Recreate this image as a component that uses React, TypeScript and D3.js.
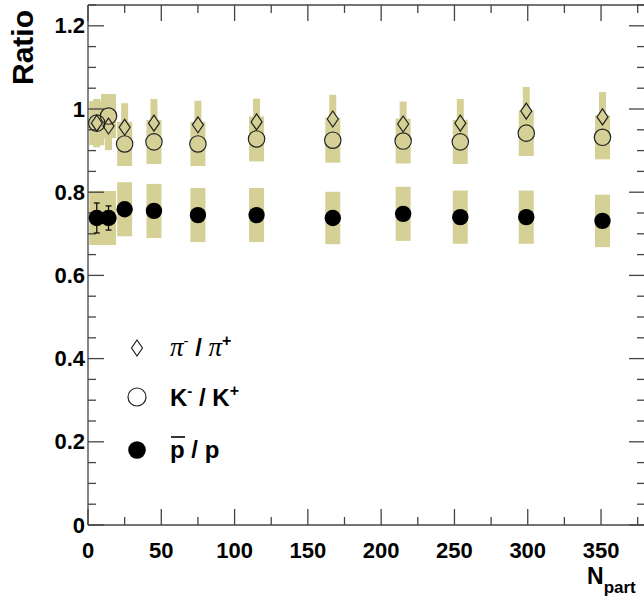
import React from 'react';
import * as d3 from 'd3';

// N_part centrality bins
const npart = [6, 14, 25, 45, 75, 115, 167, 215, 254, 299, 351];
// pi- / pi+
const piRatio = [0.966, 0.959, 0.956, 0.966, 0.962, 0.969, 0.976, 0.964, 0.966, 0.995, 0.981];
const piSys = [0.058, 0.058, 0.058, 0.058, 0.058, 0.056, 0.058, 0.054, 0.058, 0.058, 0.060];
// K- / K+
const kRatio = [0.966, 0.983, 0.916, 0.921, 0.916, 0.928, 0.925, 0.923, 0.921, 0.942, 0.932];
const kSys = [0.053, 0.053, 0.053, 0.053, 0.053, 0.054, 0.054, 0.054, 0.053, 0.055, 0.053];
// pbar / p
const pRatio = [0.738, 0.738, 0.759, 0.755, 0.745, 0.745, 0.738, 0.748, 0.740, 0.740, 0.731];
const pSys = [0.065, 0.065, 0.065, 0.065, 0.065, 0.065, 0.063, 0.065, 0.064, 0.064, 0.063];
const pStat = [0.036, 0.029, 0.012, 0.010, 0.009, 0.008, 0.008, 0.008, 0.008, 0.008, 0.008];

const xTickValues = [0, 50, 100, 150, 200, 250, 300, 350];
const yTickValues = [0, 0.2, 0.4, 0.6, 0.8, 1.0, 1.2];
const yTickLabels = ['0', '0.2', '0.4', '0.6', '0.8', '1', '1.2'];

const BAND = '#d5d096';
const AXIS = '#444';
const FONT = '"Liberation Sans", Arial, Helvetica, sans-serif';
const SERIF = '"Liberation Serif", "DejaVu Serif", serif';

export default function App() {
  const W = 644;
  const H = 597;
  const x = d3.scaleLinear().domain([0, 380]).range([88, 645]);
  const y = d3.scaleLinear().domain([0, 1.25]).range([525, 5]);
  const [x0, x1] = x.range();
  const [yb, yt] = y.range();

  const xMinor = d3.range(0, 380, 25);
  const yMinor = d3.range(0, 1.2501, 0.05);
  const xMajorSet = new Set(xTickValues);

  const diamond = (cx: number, cy: number, hw = 5.5, hh = 8) =>
    `M${cx},${cy - hh}L${cx + hw},${cy}L${cx},${cy + hh}L${cx - hw},${cy}Z`;

  const idx = npart.map((_, i) => i);

  return (
    <svg
      width={W}
      height={H}
      style={{ position: 'absolute', left: 0, top: 0, background: '#fff' }}
      fontFamily={FONT}
    >
      <rect x={0} y={0} width={W} height={H} fill="#fff" />
      {/* systematic bands */}
      <g fill={BAND}>
        {idx.map((i) => (
          <rect key={'pi' + i} x={x(npart[i]) - 3.5} width={7}
            y={y(piRatio[i] + piSys[i])} height={y(piRatio[i] - piSys[i]) - y(piRatio[i] + piSys[i])} />
        ))}
        {idx.map((i) => (
          <rect key={'k' + i} x={x(npart[i]) - 7.5} width={15}
            y={y(kRatio[i] + kSys[i])} height={y(kRatio[i] - kSys[i]) - y(kRatio[i] + kSys[i])} />
        ))}
        {idx.map((i) => (
          <rect key={'p' + i} x={x(npart[i]) - 7.5} width={15}
            y={y(pRatio[i] + pSys[i])} height={y(pRatio[i] - pSys[i]) - y(pRatio[i] + pSys[i])} />
        ))}
      </g>

      {/* frame */}
      <g stroke={AXIS} strokeWidth={1.3} fill="none">
        <line x1={x0} x2={x1} y1={yb} y2={yb} />
        <line x1={x0} x2={x1} y1={yt} y2={yt} />
        <line x1={x0} x2={x0} y1={yb} y2={yt} />
        <line x1={x1} x2={x1} y1={yb} y2={yt} />
        {xMinor.map((v) => {
          const len = xMajorSet.has(v) ? 16 : 8;
          return (
            <g key={'xt' + v}>
              <line x1={x(v)} x2={x(v)} y1={yb} y2={yb - len} />
              <line x1={x(v)} x2={x(v)} y1={yt} y2={yt + len} />
            </g>
          );
        })}
        {yMinor.map((v, k) => {
          const len = k % 4 === 0 ? 16 : 8;
          return (
            <g key={'yt' + k}>
              <line x1={x0} x2={x0 + len} y1={y(v)} y2={y(v)} />
              <line x1={x1} x2={x1 - len} y1={y(v)} y2={y(v)} />
            </g>
          );
        })}
      </g>

      {/* tick labels */}
      <g fontWeight="bold" fontSize={22} fill="#000">
        {xTickValues.map((v) => (
          <text key={'xl' + v} x={x(v)} y={558} textAnchor="middle">{v}</text>
        ))}
        {yTickValues.map((v, i) => (
          <text key={'yl' + v} x={85} y={y(v)} textAnchor="end" dominantBaseline="central">
            {yTickLabels[i]}
          </text>
        ))}
      </g>

      {/* axis titles */}
      <text transform="translate(33,10) rotate(-90)" textAnchor="end" fontWeight="bold" fontSize={30}>
        Ratio
      </text>
      <text x={587} y={584} fontWeight="bold" fontSize={23}>
        N<tspan fontSize={17} dy={9}>part</tspan>
      </text>

      {/* stat error bars for pbar/p */}
      <g stroke="#000" strokeWidth={1.2}>
        {idx.map((i) => {
          const cx = x(npart[i]);
          const top = y(pRatio[i] + pStat[i]);
          const bot = y(pRatio[i] - pStat[i]);
          return (
            <g key={'e' + i}>
              <line x1={cx} x2={cx} y1={top} y2={bot} />
              <line x1={cx - 3} x2={cx + 3} y1={top} y2={top} />
              <line x1={cx - 3} x2={cx + 3} y1={bot} y2={bot} />
            </g>
          );
        })}
      </g>

      {/* markers */}
      <g stroke="#222" strokeWidth={1.2} fill="none">
        {idx.map((i) => (
          <path key={'dm' + i} d={diamond(x(npart[i]), y(piRatio[i]))} />
        ))}
        {idx.map((i) => (
          <circle key={'oc' + i} cx={x(npart[i])} cy={y(kRatio[i])} r={8.2} />
        ))}
      </g>
      <g fill="#000">
        {idx.map((i) => (
          <circle key={'fc' + i} cx={x(npart[i])} cy={y(pRatio[i])} r={8.2} />
        ))}
      </g>

      {/* legend */}
      <g>
        <path d={diamond(137, 348)} fill="none" stroke="#222" strokeWidth={1.2} />
        <circle cx={137} cy={397} r={9} fill="none" stroke="#222" strokeWidth={1.2} />
        <circle cx={137} cy={450} r={8.8} fill="#000" />
        <text x={170} y={356} fontSize={24} style={{ whiteSpace: 'pre' }}>
          <tspan fontFamily={SERIF} fontStyle="italic" fontSize={27}>π</tspan>
          <tspan fontSize={15} dy={-10}>-</tspan>
          <tspan dy={10} fontWeight="bold">{' / '}</tspan>
          <tspan fontFamily={SERIF} fontStyle="italic" fontSize={27}>π</tspan>
          <tspan fontSize={16} dy={-10} fontWeight="bold">+</tspan>
        </text>
        <text x={170} y={406} fontSize={24} fontWeight="bold" style={{ whiteSpace: 'pre' }}>
          <tspan>K</tspan>
          <tspan fontSize={15} dy={-10}>-</tspan>
          <tspan dy={10}>{' / K'}</tspan>
          <tspan fontSize={16} dy={-10}>+</tspan>
        </text>
        <text x={170} y={458} fontSize={24} fontWeight="bold" style={{ whiteSpace: 'pre' }}>
          {'p / p'}
        </text>
        <line x1={171} x2={185} y1={437} y2={437} stroke="#000" strokeWidth={1.6} />
      </g>
    </svg>
  );
}
